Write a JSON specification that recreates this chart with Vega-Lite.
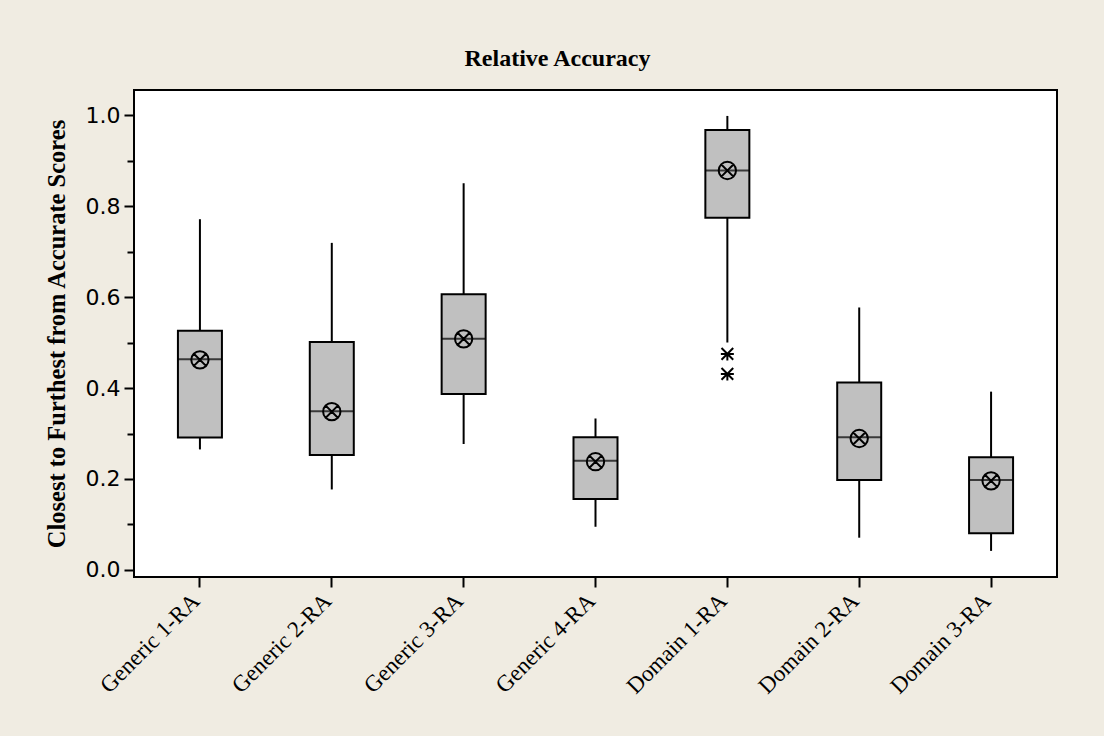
{
  "$schema": "https://vega.github.io/schema/vega-lite/v6.json",
  "width": 923,
  "height": 487,
  "autosize": {"type": "none"},
  "padding": {"left": 134, "top": 90, "right": 47, "bottom": 159},
  "background": "#F0ECE2",
  "title": {
    "text": "Relative Accuracy",
    "font": "Liberation Serif",
    "fontSize": 24,
    "fontWeight": "bold",
    "color": "black",
    "anchor": "middle",
    "dx": -38,
    "offset": 0,
    "baseline": "alphabetic"
  },
  "datasets": {
    "stats": [
      {"group": "Generic 1-RA", "low": 0.265, "q1": 0.291, "median": 0.463, "q3": 0.526, "high": 0.771, "mean": 0.462},
      {"group": "Generic 2-RA", "low": 0.177, "q1": 0.253, "median": 0.349, "q3": 0.501, "high": 0.719, "mean": 0.348},
      {"group": "Generic 3-RA", "low": 0.277, "q1": 0.387, "median": 0.508, "q3": 0.606, "high": 0.850, "mean": 0.508},
      {"group": "Generic 4-RA", "low": 0.095, "q1": 0.156, "median": 0.240, "q3": 0.292, "high": 0.333, "mean": 0.238},
      {"group": "Domain 1-RA", "low": 0.500, "q1": 0.774, "median": 0.878, "q3": 0.967, "high": 0.998, "mean": 0.878},
      {"group": "Domain 2-RA", "low": 0.071, "q1": 0.198, "median": 0.292, "q3": 0.412, "high": 0.577, "mean": 0.289},
      {"group": "Domain 3-RA", "low": 0.042, "q1": 0.081, "median": 0.198, "q3": 0.248, "high": 0.392, "mean": 0.196}
    ],
    "outliers": [
      {"group": "Domain 1-RA", "value": 0.475},
      {"group": "Domain 1-RA", "value": 0.431}
    ]
  },
  "config": {
    "view": {"stroke": "black", "strokeWidth": 2, "fill": "white"},
    "axisY": {
      "labelFont": "DejaVu Sans",
      "labelFontSize": 22,
      "labelColor": "black",
      "labelPadding": 4,
      "tickColor": "black",
      "tickWidth": 2,
      "domain": false,
      "grid": false,
      "titleFont": "Liberation Serif",
      "titleFontSize": 24.5,
      "titleFontWeight": "bold",
      "titleColor": "black",
      "titlePadding": 16
    },
    "axisX": {
      "labelFont": "Liberation Serif",
      "labelFontSize": 23,
      "labelColor": "black",
      "labelAngle": -45,
      "labelAlign": "right",
      "labelBaseline": "middle",
      "labelPadding": 10,
      "labelOffset": -4,
      "tickColor": "black",
      "tickWidth": 2,
      "tickSize": 10,
      "domain": false,
      "grid": false
    }
  },
  "encoding": {
    "x": {
      "field": "group",
      "type": "nominal",
      "sort": ["Generic 1-RA", "Generic 2-RA", "Generic 3-RA", "Generic 4-RA", "Domain 1-RA", "Domain 2-RA", "Domain 3-RA"],
      "scale": {"paddingInner": 0, "paddingOuter": 0},
      "axis": {"title": null}
    }
  },
  "layer": [
    {
      "data": {"name": "stats"},
      "mark": {"type": "rule", "stroke": "black", "strokeWidth": 2},
      "encoding": {
        "y": {
          "field": "low",
          "type": "quantitative",
          "title": "Closest to Furthest from Accurate Scores",
          "scale": {"domain": [-0.0154, 1.055], "nice": false, "zero": false},
          "axis": {
            "values": [0, 0.1, 0.2, 0.3, 0.4, 0.5, 0.6, 0.7, 0.8, 0.9, 1.0],
            "labelExpr": "round(datum.value*10)%2 == 0 ? format(datum.value, '.1f') : ''",
            "tickSize": {"condition": {"test": "round(datum.value*10)%2 == 0", "value": 10}, "value": 7}
          }
        },
        "y2": {"field": "high"}
      }
    },
    {
      "data": {"name": "stats"},
      "mark": {"type": "bar", "width": 44, "fill": "#C0C0C0", "stroke": "black", "strokeWidth": 2},
      "encoding": {
        "y": {"field": "q1", "type": "quantitative", "title": "Closest to Furthest from Accurate Scores"},
        "y2": {"field": "q3"}
      }
    },
    {
      "data": {"name": "stats"},
      "mark": {"type": "tick", "color": "black", "size": 44, "thickness": 2},
      "encoding": {
        "y": {"field": "median", "type": "quantitative", "title": "Closest to Furthest from Accurate Scores"}
      }
    },
    {
      "data": {"name": "stats"},
      "mark": {
        "type": "point",
        "shape": "M-1,0A1,1,0,1,0,1,0A1,1,0,1,0,-1,0M-0.7,-0.7L0.7,0.7M-0.7,0.7L0.7,-0.7",
        "size": 300,
        "stroke": "black",
        "strokeWidth": 2,
        "filled": false,
        "opacity": 1
      },
      "encoding": {
        "y": {"field": "mean", "type": "quantitative", "title": "Closest to Furthest from Accurate Scores"}
      }
    },
    {
      "data": {"name": "outliers"},
      "mark": {
        "type": "point",
        "shape": "M0,-0.2L0,1M-0.9,-0.9L0.9,0.9M-0.9,0.9L0.9,-0.9M-1,0L1,0",
        "size": 169,
        "stroke": "black",
        "strokeWidth": 2,
        "filled": false,
        "opacity": 1
      },
      "encoding": {
        "y": {"field": "value", "type": "quantitative", "title": "Closest to Furthest from Accurate Scores"}
      }
    }
  ]
}
